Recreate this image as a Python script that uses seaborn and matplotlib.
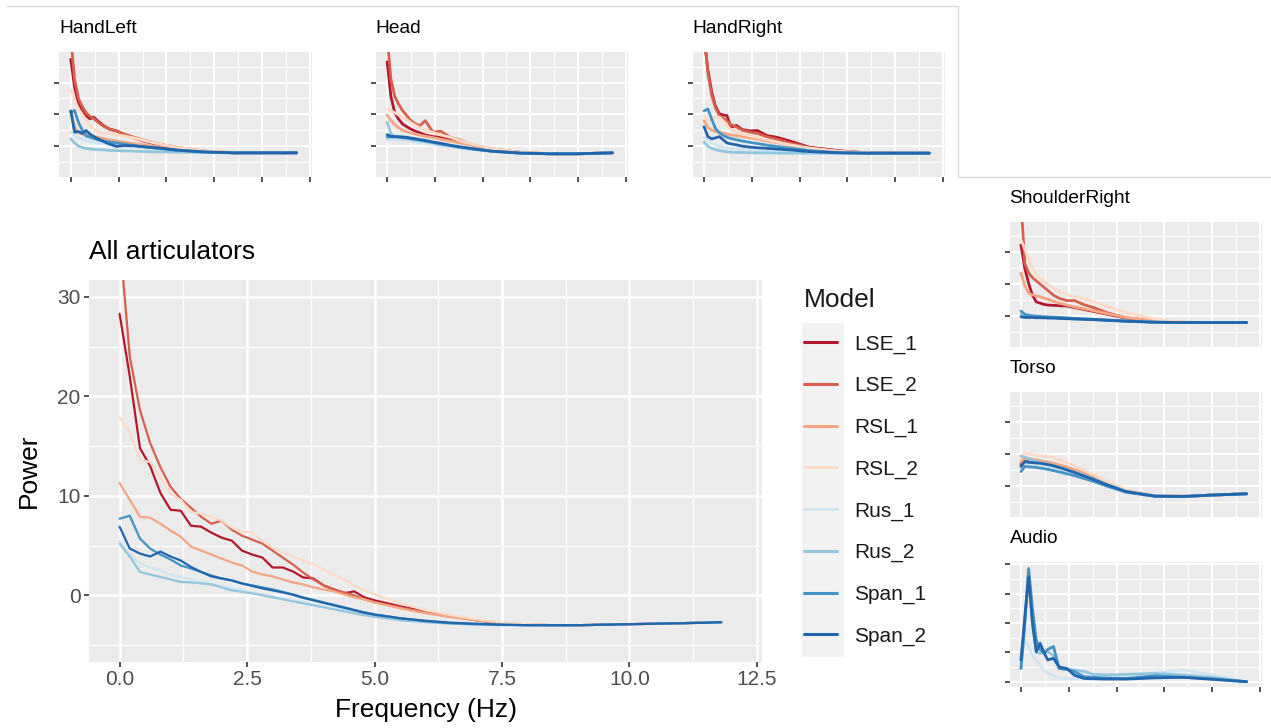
import matplotlib
matplotlib.use("Agg")
import matplotlib.pyplot as plt
from matplotlib.lines import Line2D
from matplotlib.patches import Rectangle
import seaborn as sns
import pandas as pd

# ---------------- data ----------------
MODELS = ["LSE_1", "LSE_2", "RSL_1", "RSL_2", "Rus_1", "Rus_2", "Span_1", "Span_2"]
COLORS = ["#B2182B", "#D6604D", "#F4A582", "#FDDBC7", "#D1E5F0", "#92C5DE", "#4393C3", "#2166AC"]
AUDIO_MODELS = ["Rus_1", "Rus_2", "Span_1", "Span_2"]

FREQ_MAIN = [0.0, 0.2, 0.4, 0.6, 0.8, 1.0, 1.2, 1.4, 1.6, 1.8, 2.0, 2.2, 2.4, 2.6, 2.8, 3.0, 3.2, 3.4,
             3.6, 3.8, 4.0, 4.2, 4.4, 4.6, 4.8, 5.0, 5.5, 6.0, 6.5, 7.0, 7.5, 8.0, 8.5, 9.0, 9.5, 10.0,
             10.5, 11.0, 11.5, 11.8]

MAIN_POWER = [
    [28.3, 22.0, 14.8, 13.0, 10.3, 8.6, 8.5, 7.0, 6.9, 6.3, 5.8, 5.5, 4.5, 4.1, 3.8, 2.8, 2.8, 2.4, 1.8, 1.7,
     1.0, 0.6, 0.2, 0.4, -0.2, -0.5, -1.1, -1.6, -2.1, -2.5, -2.8, -2.95, -3.0, -3.0, -2.95, -2.9, -2.85, -2.8, -2.75, -2.7],
    [36.0, 24.0, 18.6, 15.3, 12.9, 10.9, 9.7, 8.8, 7.9, 7.2, 7.5, 6.6, 6.0, 5.6, 5.2, 4.5, 3.8, 3.1, 2.3, 1.6,
     1.0, 0.6, 0.3, 0.0, -0.4, -0.7, -1.2, -1.7, -2.1, -2.5, -2.8, -2.95, -3.0, -3.0, -2.95, -2.9, -2.85, -2.8, -2.75, -2.7],
    [11.3, 9.6, 7.9, 7.8, 7.2, 6.5, 5.9, 4.9, 4.5, 4.1, 3.7, 3.3, 3.0, 2.4, 2.1, 1.9, 1.6, 1.3, 1.1, 0.8,
     0.6, 0.4, 0.1, -0.2, -0.4, -0.7, -1.3, -1.8, -2.2, -2.5, -2.8, -2.95, -3.0, -3.0, -2.95, -2.9, -2.85, -2.8, -2.75, -2.7],
    [17.9, 16.4, 13.6, 13.4, 11.9, 10.2, 9.6, 8.4, 8.2, 7.9, 7.5, 6.8, 6.4, 6.3, 5.5, 4.8, 4.3, 3.9, 3.5, 3.1,
     2.6, 2.1, 1.6, 1.0, 0.5, 0.1, -0.8, -1.5, -2.0, -2.4, -2.75, -2.9, -3.0, -3.0, -2.95, -2.9, -2.85, -2.8, -2.75, -2.7],
    [5.5, 4.2, 3.2, 2.8, 2.5, 2.1, 1.8, 1.6, 1.35, 1.2, 0.9, 0.7, 0.5, 0.3, 0.1, -0.1, -0.3, -0.5, -0.7, -0.9,
     -1.1, -1.3, -1.5, -1.7, -1.9, -2.0, -2.4, -2.65, -2.8, -2.9, -3.0, -3.0, -3.0, -3.0, -2.95, -2.9, -2.85, -2.8, -2.75, -2.7],
    [5.2, 3.9, 2.35, 2.1, 1.85, 1.6, 1.35, 1.3, 1.2, 1.1, 0.8, 0.5, 0.35, 0.2, 0.0, -0.2, -0.4, -0.6, -0.8, -1.0,
     -1.2, -1.4, -1.6, -1.8, -2.0, -2.15, -2.5, -2.7, -2.85, -2.95, -3.0, -3.0, -3.0, -3.0, -2.95, -2.9, -2.85, -2.8, -2.75, -2.7],
    [7.7, 8.0, 5.7, 4.7, 4.1, 3.6, 3.0, 2.7, 2.35, 2.0, 1.7, 1.5, 1.2, 1.0, 0.8, 0.6, 0.35, 0.1, -0.2, -0.45,
     -0.7, -0.95, -1.2, -1.45, -1.7, -1.9, -2.3, -2.6, -2.8, -2.9, -2.95, -3.0, -3.0, -3.0, -2.95, -2.9, -2.85, -2.8, -2.75, -2.7],
    [6.9, 4.7, 4.2, 3.9, 4.4, 3.9, 3.5, 2.85, 2.35, 1.9, 1.7, 1.5, 1.2, 0.95, 0.7, 0.5, 0.3, 0.05, -0.25, -0.5,
     -0.75, -1.0, -1.25, -1.5, -1.75, -1.95, -2.3, -2.55, -2.75, -2.85, -2.95, -3.0, -3.0, -3.0, -2.95, -2.9, -2.85, -2.8, -2.75, -2.7],
]

FREQ_SMALL = [0.0, 0.2, 0.4, 0.6, 0.8, 1.0, 1.2, 1.4, 1.7, 2.0, 2.4, 2.8, 3.3, 3.8, 4.5, 5.5, 7.0, 8.5, 10.0, 11.8]

HANDLEFT_POWER = [
    [27.3, 18.5, 13.5, 11.0, 9.6, 8.6, 9.1, 8.0, 6.5, 5.4, 4.8, 3.6, 2.6, 1.6, 0.6, -0.4, -1.6, -2.1, -2.1, -2.1],
    [34.0, 21.0, 15.0, 12.5, 10.5, 9.4, 8.6, 7.6, 6.3, 5.4, 4.7, 3.8, 2.8, 1.9, 0.8, -0.3, -1.6, -2.1, -2.1, -2.1],
    [11.0, 6.0, 4.2, 3.8, 3.6, 3.3, 3.0, 2.8, 2.4, 2.0, 1.6, 1.2, 0.8, 0.4, -0.2, -0.9, -1.7, -2.1, -2.1, -2.1],
    [17.6, 14.5, 11.8, 10.0, 8.0, 6.5, 5.5, 4.6, 4.0, 4.0, 3.6, 3.2, 2.6, 1.8, 0.8, -0.3, -1.5, -2.0, -2.1, -2.1],
    [4.5, 3.5, 2.6, 2.2, 1.8, 1.5, 1.2, 1.0, 0.8, 0.6, 0.3, 0.0, -0.3, -0.6, -1.0, -1.5, -1.9, -2.1, -2.1, -2.1],
    [2.3, 1.0, 0.0, -0.4, -0.7, -0.9, -1.0, -1.1, -1.2, -1.3, -1.4, -1.5, -1.6, -1.7, -1.8, -1.9, -2.0, -2.1, -2.1, -2.1],
    [10.6, 11.2, 7.5, 5.0, 3.2, 2.8, 2.4, 2.0, 1.6, 1.3, 1.0, 0.6, 0.2, -0.2, -0.7, -1.3, -1.9, -2.1, -2.1, -2.1],
    [11.1, 4.4, 4.6, 4.0, 4.9, 3.8, 3.0, 2.4, 1.5, 0.7, -0.1, 0.2, 0.1, -0.2, -0.5, -1.2, -1.8, -2.1, -2.1, -2.1],
]

HEAD_POWER = [
    [26.5, 15.5, 10.5, 8.5, 7.0, 6.2, 5.5, 4.9, 4.2, 3.5, 3.0, 2.8, 2.1, 1.6, 0.3, -0.9, -2.0, -2.4, -2.4, -2.1],
    [34.0, 21.0, 15.6, 13.2, 11.2, 9.8, 8.3, 7.3, 6.4, 8.0, 4.4, 4.7, 2.8, 2.0, 0.3, -0.9, -2.0, -2.4, -2.4, -2.1],
    [9.8, 8.0, 6.8, 5.8, 5.0, 4.6, 4.2, 3.9, 3.5, 3.1, 2.7, 2.2, 1.6, 1.0, 0.2, -0.9, -2.0, -2.4, -2.4, -2.1],
    [11.7, 11.1, 10.5, 9.8, 9.0, 8.4, 7.6, 6.8, 5.8, 5.0, 4.3, 3.5, 2.8, 1.8, 0.5, -0.8, -2.0, -2.4, -2.4, -2.1],
    [1.8, 2.0, 2.0, 1.9, 1.8, 1.7, 1.5, 1.3, 1.1, 0.8, 0.5, 0.2, -0.2, -0.6, -1.1, -1.7, -2.2, -2.4, -2.4, -2.1],
    [7.5, 3.9, 3.0, 2.8, 2.6, 2.4, 2.2, 2.0, 1.7, 1.4, 1.0, 0.6, 0.1, -0.4, -1.0, -1.6, -2.2, -2.4, -2.4, -2.1],
    [2.8, 2.9, 2.9, 2.8, 2.7, 2.6, 2.4, 2.2, 1.9, 1.6, 1.2, 0.7, 0.2, -0.3, -0.9, -1.6, -2.2, -2.4, -2.4, -2.1],
    [3.6, 3.1, 3.0, 3.0, 2.9, 2.8, 2.6, 2.4, 2.1, 1.8, 1.3, 0.9, 0.3, -0.2, -0.8, -1.6, -2.2, -2.4, -2.4, -2.1],
]

HANDRIGHT_POWER = [
    [34.0, 24.0, 17.0, 12.5, 10.2, 9.8, 9.6, 6.0, 6.5, 5.2, 4.8, 4.9, 3.3, 2.8, 1.6, -0.3, -1.4, -2.1, -2.2, -2.2],
    [36.0, 23.0, 16.0, 12.0, 9.5, 8.8, 8.0, 6.8, 6.0, 5.0, 4.4, 4.0, 2.9, 2.2, 1.0, -0.5, -1.6, -2.1, -2.2, -2.2],
    [8.0, 5.9, 5.0, 4.6, 4.4, 4.1, 3.8, 3.5, 3.3, 3.0, 2.6, 2.2, 1.6, 1.1, 0.3, -0.7, -1.7, -2.1, -2.2, -2.2],
    [9.6, 8.0, 8.8, 9.1, 9.1, 8.0, 6.5, 5.3, 4.4, 3.8, 3.2, 2.8, 2.0, 1.3, 0.4, -0.6, -1.6, -2.1, -2.2, -2.2],
    [2.8, 1.8, 0.9, 0.4, 0.0, -0.3, -0.5, -0.7, -0.8, -1.0, -1.2, -1.3, -1.5, -1.6, -1.8, -2.0, -2.1, -2.2, -2.2, -2.2],
    [1.25, 0.0, -0.7, -1.1, -1.4, -1.6, -1.8, -1.9, -2.0, -2.0, -2.1, -2.1, -2.1, -2.2, -2.2, -2.2, -2.2, -2.2, -2.2, -2.2],
    [11.1, 11.7, 8.5, 5.5, 4.2, 3.4, 2.8, 2.4, 2.0, 1.6, 1.2, 0.8, 0.3, -0.1, -0.6, -1.4, -2.0, -2.2, -2.2, -2.2],
    [6.1, 3.0, 2.3, 2.6, 3.0, 2.0, 1.0, 0.7, 0.4, 0.0, -0.3, -0.5, -0.7, -0.9, -1.2, -1.7, -2.1, -2.2, -2.2, -2.2],
]

SHOULDERRIGHT_POWER = [
    [22.3, 15.0, 10.2, 6.5, 4.4, 4.0, 3.6, 3.4, 3.3, 3.2, 3.1, 2.6, 2.0, 1.4, 0.5, -0.7, -1.7, -2.1, -2.1, -2.1],
    [36.0, 16.5, 13.5, 12.0, 11.0, 10.0, 9.0, 8.0, 6.5, 5.5, 4.8, 4.8, 3.5, 2.6, 1.0, -0.6, -1.7, -2.1, -2.1, -2.1],
    [13.4, 9.5, 7.1, 6.6, 6.3, 6.0, 5.6, 5.2, 4.6, 4.0, 3.4, 2.8, 2.2, 1.6, 0.7, -0.5, -1.6, -2.0, -2.1, -2.1],
    [23.9, 21.0, 17.6, 15.0, 13.0, 11.8, 10.8, 10.0, 8.6, 7.6, 6.8, 6.0, 5.3, 4.4, 3.0, 1.0, -1.0, -2.0, -2.1, -2.1],
    [0.8, 0.2, 0.0, -0.1, -0.2, -0.3, -0.4, -0.5, -0.6, -0.7, -0.8, -0.9, -1.0, -1.2, -1.4, -1.7, -2.0, -2.1, -2.1, -2.1],
    [0.3, -0.2, -0.3, -0.3, -0.4, -0.4, -0.5, -0.5, -0.6, -0.7, -0.8, -0.9, -1.0, -1.2, -1.4, -1.7, -2.0, -2.1, -2.1, -2.1],
    [1.5, 0.5, 0.2, 0.0, -0.1, -0.2, -0.3, -0.3, -0.4, -0.5, -0.6, -0.8, -0.9, -1.1, -1.3, -1.6, -2.0, -2.1, -2.1, -2.1],
    [-0.3, -0.5, -0.5, -0.5, -0.6, -0.6, -0.6, -0.7, -0.7, -0.8, -0.9, -1.0, -1.1, -1.2, -1.4, -1.7, -2.0, -2.1, -2.1, -2.1],
]

TORSO_POWER = [
    [6.6, 7.6, 7.3, 7.1, 6.9, 6.7, 6.5, 6.3, 5.9, 5.5, 4.9, 4.2, 3.3, 2.3, 0.6, -1.6, -3.2, -3.3, -2.9, -2.5],
    [7.0, 8.0, 7.7, 7.5, 7.3, 7.1, 6.9, 6.7, 6.3, 5.8, 5.1, 4.4, 3.4, 2.3, 0.6, -1.6, -3.2, -3.3, -2.9, -2.5],
    [7.6, 8.7, 8.5, 8.3, 8.1, 7.9, 7.7, 7.5, 7.1, 6.6, 5.9, 5.1, 4.0, 2.8, 1.0, -1.3, -3.1, -3.3, -2.9, -2.5],
    [8.7, 10.3, 10.0, 9.8, 9.6, 9.5, 9.4, 9.3, 8.8, 8.2, 7.3, 6.3, 4.9, 3.5, 1.5, -1.2, -3.1, -3.3, -2.9, -2.5],
    [5.5, 7.0, 7.0, 6.9, 6.8, 6.6, 6.4, 6.2, 5.8, 5.3, 4.7, 4.0, 3.1, 2.1, 0.5, -1.6, -3.2, -3.3, -2.9, -2.5],
    [9.4, 9.0, 8.5, 8.0, 7.7, 7.4, 7.1, 6.8, 6.3, 5.8, 5.1, 4.3, 3.3, 2.2, 0.5, -1.7, -3.2, -3.3, -2.9, -2.5],
    [4.5, 6.1, 6.0, 5.9, 5.8, 5.6, 5.4, 5.2, 4.8, 4.4, 3.8, 3.2, 2.3, 1.4, -0.1, -2.0, -3.3, -3.35, -2.9, -2.5],
    [6.1, 7.6, 7.4, 7.3, 7.2, 7.1, 6.9, 6.7, 6.3, 5.8, 5.0, 4.2, 3.1, 2.0, 0.3, -1.8, -3.2, -3.35, -2.9, -2.5],
]

AUDIO_POWER = [
    [0.63, 1.42, 1.2, 0.9, 0.74, 0.55, 0.4, 0.28, 0.2, 0.12, 0.11, 0.11, 0.11, 0.12, 0.15, 0.22, 0.3, 0.4, 0.23, 0.0],
    [0.45, 2.0, 3.8, 2.0, 1.0, 0.97, 1.0, 1.02, 0.9, 0.45, 0.42, 0.4, 0.35, 0.25, 0.23, 0.25, 0.28, 0.23, 0.15, 0.0],
    [0.45, 2.0, 3.86, 2.5, 1.42, 1.1, 0.97, 1.1, 1.2, 0.45, 0.42, 0.35, 0.17, 0.15, 0.12, 0.11, 0.2, 0.15, 0.1, 0.0],
    [0.74, 2.2, 3.58, 2.0, 1.02, 1.31, 1.0, 0.74, 0.8, 0.5, 0.45, 0.22, 0.11, 0.1, 0.09, 0.09, 0.13, 0.15, 0.08, 0.0],
]

X_TICKS = [0.0, 2.5, 5.0, 7.5, 10.0, 12.5]
X_TICK_LABELS = ["0.0", "2.5", "5.0", "7.5", "10.0", "12.5"]
Y_TICKS_MAIN = [0, 10, 20, 30]

# ---------------- style ----------------
sns.set_theme(style="darkgrid", rc={
    "axes.facecolor": "#EBEBEB",
    "grid.color": "white",
    "figure.facecolor": "white",
})
plt.rcParams["font.family"] = ["Liberation Sans", "DejaVu Sans"]

W, H = 1271, 728
fig = plt.figure(figsize=(W / 100, H / 100), dpi=100)
palette = dict(zip(MODELS, COLORS))
TICK_COL = "#333333"
LABEL_COL = "#4D4D4D"


def long_df(freq, rows, models):
    recs = []
    for m, vals in zip(models, rows):
        for f, v in zip(freq, vals):
            recs.append({"Frequency": f, "Power": v, "Model": m})
    return pd.DataFrame(recs)


def add_ax(x0, x1, y0, y1):
    return fig.add_axes([x0 / W, 1 - y1 / H, (x1 - x0) / W, (y1 - y0) / H])


def style_grid(ax, ylim, yticks, yminor, major_lw, minor_lw):
    ax.set_xlim(-0.6, 12.6)
    ax.set_ylim(*ylim)
    ax.set_xticks(X_TICKS)
    ax.set_xticks([1.25, 3.75, 6.25, 8.75, 11.25], minor=True)
    ax.set_yticks(yticks)
    ax.set_yticks(yminor, minor=True)
    ax.grid(which="major", color="white", lw=major_lw)
    ax.grid(which="minor", color="white", lw=minor_lw)
    ax.set_axisbelow(True)
    for s in ax.spines.values():
        s.set_visible(False)
    ax.tick_params(which="minor", length=0)
    ax.set_xlabel("")
    ax.set_ylabel("")


def small_panel(box, title, freq, rows, models, ylim, yticks, yminor, xticks_on=True):
    ax = add_ax(*box)
    df = long_df(freq, rows, models)
    sns.lineplot(data=df, x="Frequency", y="Power", hue="Model", hue_order=models,
                 palette=palette, estimator=None, sort=False, lw=2.0, legend=False, ax=ax)
    style_grid(ax, ylim, yticks, yminor, 1.5, 0.8)
    ax.tick_params(which="major", length=3.6, width=1.2, color=TICK_COL,
                   labelbottom=False, labelleft=False, bottom=True, left=True, pad=0)
    if not xticks_on:
        ax.tick_params(axis="x", which="major", length=0)
    ax.set_title(title, loc="left", fontsize=13.8, color="black", pad=13.7)
    return ax


ART_YLIM = (-9.7, 29.6)
ART_YT = [0, 10, 20]
ART_YM = [-5, 5, 15, 25]

small_panel((59.3, 311.9, 52, 177), "HandLeft", FREQ_SMALL, HANDLEFT_POWER, MODELS, ART_YLIM, ART_YT, ART_YM)
small_panel((375.7, 627.7, 52, 177), "Head", FREQ_SMALL, HEAD_POWER, MODELS, ART_YLIM, ART_YT, ART_YM)
small_panel((692.6, 944.7, 52, 177), "HandRight", FREQ_SMALL, HANDRIGHT_POWER, MODELS, ART_YLIM, ART_YT, ART_YM)
small_panel((1009.5, 1261.9, 221.7, 346.7), "ShoulderRight", FREQ_SMALL, SHOULDERRIGHT_POWER, MODELS,
            ART_YLIM, ART_YT, ART_YM, xticks_on=False)
small_panel((1009.5, 1261.9, 391.7, 516.7), "Torso", FREQ_SMALL, TORSO_POWER, MODELS,
            ART_YLIM, ART_YT, ART_YM, xticks_on=False)
small_panel((1009.5, 1261.9, 561.7, 686.7), "Audio", FREQ_SMALL, AUDIO_POWER, AUDIO_MODELS,
            (-0.17, 4.09), [0, 1, 2, 3, 4], [0.5, 1.5, 2.5, 3.5])

# ---------------- main panel ----------------
ax = add_ax(89, 762, 280, 662)
dfm = long_df(FREQ_MAIN, MAIN_POWER, MODELS)
sns.lineplot(data=dfm, x="Frequency", y="Power", hue="Model", hue_order=MODELS,
             palette=palette, estimator=None, sort=False, lw=1.6, ax=ax)
style_grid(ax, (-6.7, 31.7), Y_TICKS_MAIN, [-5, 5, 15, 25], 1.8, 0.9)
ax.set_xticklabels(X_TICK_LABELS)
ax.set_yticklabels([str(v) for v in Y_TICKS_MAIN])
ax.tick_params(which="major", length=3.6, width=1.2, color=TICK_COL, labelcolor=LABEL_COL,
               labelsize=15, pad=2.5, bottom=True, left=True)
ax.set_xlabel("Frequency (Hz)", fontsize=19, color="black")
ax.set_ylabel("Power", fontsize=19, color="black")
ax.xaxis.set_label_coords(0.5, -0.095)
ax.yaxis.set_label_coords(-0.072, 0.5)
ax.set_title("All articulators", loc="left", fontsize=19, color="black", pad=14.9)

handles, labels = ax.get_legend_handles_labels()
ax.get_legend().remove()
for h in handles:
    h.set_linewidth(2.2)

# legend key background (ggplot style)
fig.patches.append(Rectangle((802 / W, 1 - 657 / H), 42 / W, 334 / H, transform=fig.transFigure,
                             facecolor="#F2F2F2", edgecolor="none", zorder=0))
leg = fig.legend(handles, labels, title="Model", loc="upper left", bbox_to_anchor=(804 / W, 1 - 288 / H),
                 frameon=False, fontsize=15, title_fontsize=19, handlelength=1.6, handletextpad=0.8,
                 labelspacing=1.08, borderpad=0, borderaxespad=0, alignment="left")
for t in leg.get_texts():
    t.set_color("#1A1A1A")
leg.get_title().set_color("#1A1A1A")

# thin border of the top strip
fig.add_artist(Line2D([7 / W, 958 / W, 958 / W, 1.0], [1 - 6 / H, 1 - 6 / H, 1 - 177 / H, 1 - 177 / H],
                      transform=fig.transFigure, color="#DADADA", lw=1.0))

fig.savefig("out.png", dpi=100)
